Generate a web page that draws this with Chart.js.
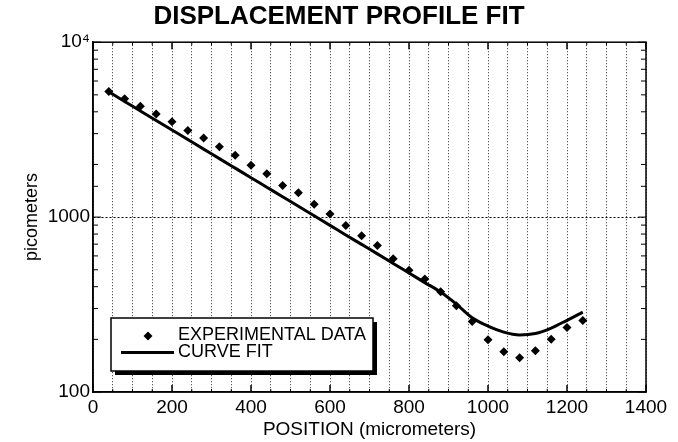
<!DOCTYPE html>
<html>
<head>
<meta charset="utf-8">
<script src="https://cdn.jsdelivr.net/npm/chart.js@4/dist/chart.umd.min.js"></script>
<style>
html,body{margin:0;padding:0;background:#fff;}
#wrap{width:678px;height:442px;position:relative;}
</style>
</head>
<body>
<div id="wrap"><canvas id="c" width="678" height="442"></canvas></div>
<script>
// ---- data ----
const positions = [40, 80, 120, 160, 200, 240, 280, 320, 360, 400, 440, 480, 520, 560, 600, 640, 680, 720, 760, 800, 840, 880, 920, 960, 1000, 1040, 1080, 1120, 1160, 1200, 1240];
const experimentalData = [5218, 4757, 4297, 3883, 3512, 3131, 2829, 2525, 2261, 1981, 1768, 1515, 1376, 1184, 1043, 894, 783, 689, 578, 496, 442, 374, 311, 253, 199, 170, 157, 172, 200, 234, 256];
const curveFit = [5200, 4586, 4046, 3568, 3147, 2776, 2448, 2160, 1905, 1680, 1482, 1307, 1153, 1017, 897, 791, 698, 616, 543, 479, 422, 373, 318, 266, 238, 220, 212, 216, 232, 257, 286];
const xTickValues = [0, 200, 400, 600, 800, 1000, 1200, 1400];
const yTickValues = [100, 1000, 10000];
const yTickText = ['100', '1000', '10\u2074'];
const seriesNames = ['EXPERIMENTAL DATA', 'CURVE FIT'];
const titleText = 'DISPLACEMENT PROFILE FIT';
const xTitle = 'POSITION (micrometers)';
const yTitle = 'picometers';

Chart.defaults.font.family = "'Liberation Sans', Arial, Helvetica, sans-serif";
Chart.defaults.color = '#000';

const expPoints = positions.map((p, i) => ({x: p, y: experimentalData[i]}));
const fitPoints = positions.map((p, i) => ({x: p, y: curveFit[i]}));

const framePlugin = {
  id: 'frame',
  afterDraw(chart) {
    const {ctx, chartArea: a, scales: {x, y}} = chart;
    ctx.save();
    ctx.strokeStyle = '#000';
    ctx.lineWidth = 1.5;
    ctx.strokeRect(a.left, a.top, a.right - a.left, a.bottom - a.top);
    ctx.lineWidth = 1;
    const seg = (x1, y1, x2, y2) => { ctx.beginPath(); ctx.moveTo(x1, y1); ctx.lineTo(x2, y2); ctx.stroke(); };
    y.ticks.forEach(t => {
      const py = y.getPixelForValue(t.value);
      const len = yTickValues.includes(t.value) ? 8 : 5;
      seg(a.left, py, a.left + len, py);
      seg(a.right, py, a.right - len, py);
    });
    x.ticks.forEach(t => {
      const px = x.getPixelForValue(t.value);
      const major = xTickValues.includes(t.value);
      const len = major ? 7 : 3;
      ctx.lineWidth = major ? 1.5 : 1;
      seg(px, a.bottom, px, a.bottom - len);
      seg(px, a.top, px, a.top + len);
    });
    // legend box
    const bl = a.left + 18, bt = a.bottom - 74, bw = 262, bh = 53;
    ctx.fillStyle = '#000';
    ctx.fillRect(bl + 4, bt + 4, bw, bh);
    ctx.fillStyle = '#fff';
    ctx.fillRect(bl, bt, bw, bh);
    ctx.lineWidth = 1.5;
    ctx.strokeRect(bl, bt, bw, bh);
    // marker
    const mx = bl + 37, my = bt + 18, r = 4.5;
    ctx.fillStyle = '#000';
    ctx.beginPath();
    ctx.moveTo(mx, my - r); ctx.lineTo(mx + r, my); ctx.lineTo(mx, my + r); ctx.lineTo(mx - r, my); ctx.closePath();
    ctx.fill();
    // line
    ctx.lineWidth = 3;
    seg(bl + 10, bt + 34.5, bl + 63, bt + 34.5);
    ctx.font = "18px 'Liberation Sans', Arial, sans-serif";
    ctx.textBaseline = 'middle';
    ctx.textAlign = 'left';
    ctx.fillText(seriesNames[0], bl + 67, bt + 17);
    ctx.fillText(seriesNames[1], bl + 67, bt + 34.5);
    ctx.restore();
  }
};

new Chart(document.getElementById('c'), {
  type: 'scatter',
  data: {
    datasets: [
      {
        type: 'line',
        label: seriesNames[1],
        data: fitPoints,
        borderColor: '#000',
        borderWidth: 3,
        pointRadius: 0,
        fill: false,
        cubicInterpolationMode: 'monotone'
      },
      {
        label: seriesNames[0],
        data: expPoints,
        pointStyle: 'rectRot',
        pointRadius: 4.5,
        backgroundColor: '#000',
        borderColor: '#000',
        borderWidth: 0
      }
    ]
  },
  options: {
    responsive: false,
    animation: false,
    devicePixelRatio: 1,
    layout: {padding: {left: 0, right: 0, top: 0, bottom: 0}},
    plugins: {
      legend: {display: false},
      tooltip: {enabled: false},
      title: {
        display: true,
        text: titleText,
        font: {size: 26, weight: 'bold'},
        color: '#000',
        padding: {top: 1, bottom: 10}
      }
    },
    scales: {
      x: {
        type: 'linear',
        min: 0,
        max: 1400,
        afterFit: s => { s.height = 50; },
        ticks: {
          stepSize: 50,
          autoSkip: false,
          maxRotation: 0,
          padding: 4,
          font: {size: 19},
          color: '#000',
          callback: v => xTickValues.includes(v) ? String(v) : ''
        },
        grid: {
          color: 'rgba(0,0,0,0.8)',
          lineWidth: 1,
          drawTicks: false
        },
        border: {display: true, color: '#000', width: 1.5, dash: [1, 2]},
        title: {
          display: true,
          text: xTitle,
          font: {size: 19},
          color: '#000',
          padding: {top: 0, bottom: 1}
        }
      },
      y: {
        type: 'logarithmic',
        min: 100,
        max: 10000,
        afterFit: s => { s.width = 93; },
        ticks: {
          autoSkip: false,
          padding: 3,
          font: {size: 19},
          color: '#000',
          callback: v => { const i = yTickValues.indexOf(v); return i >= 0 ? yTickText[i] : ''; }
        },
        grid: {
          color: c => (c.tick && c.tick.value === 1000) ? '#000' : 'rgba(0,0,0,0)',
          lineWidth: 1,
          drawTicks: false
        },
        border: {display: true, color: '#000', width: 1.5, dash: [2, 2]},
        title: {
          display: true,
          text: yTitle,
          font: {size: 18},
          color: '#000',
          padding: {top: 21, bottom: 0}
        }
      },
      yRight: {
        type: 'logarithmic',
        position: 'right',
        min: 100,
        max: 10000,
        afterFit: s => { s.width = 32; },
        ticks: {display: false},
        grid: {display: false, drawTicks: false},
        border: {display: false}
      }
    }
  },
  plugins: [framePlugin]
});
</script>
</body>
</html>
